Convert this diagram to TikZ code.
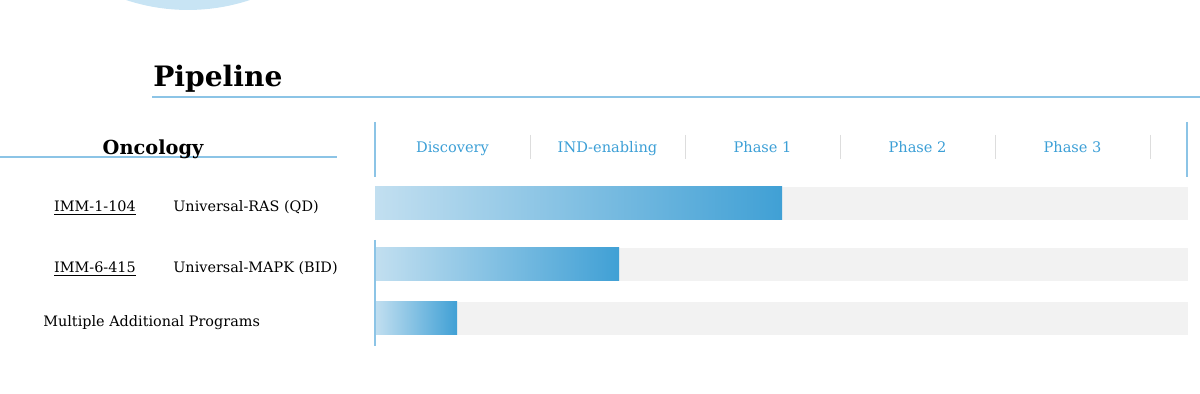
\documentclass[tikz,border=0pt]{standalone}
\usepackage{fontspec}
\setmainfont{DejaVu Serif}
\usetikzlibrary{calc}
\definecolor{pipeblue}{HTML}{3C9FD6}
\definecolor{ruleblue}{HTML}{8CC4E6}
\definecolor{barlight}{HTML}{C2DFF0}
\definecolor{bardark}{HTML}{40A0D5}
\definecolor{bargray}{HTML}{F2F2F2}
\definecolor{sepgray}{HTML}{DDDDDD}
\definecolor{blob}{HTML}{C8E4F4}
\tikzset{
  phase/.style={text=pipeblue, font=\fontsize{8.3}{10}\selectfont, anchor=base, inner sep=0pt},
  prog/.style={font=\fontsize{8.2}{10}\selectfont, anchor=base west, inner sep=0pt},
  code/.style={font=\fontsize{8.2}{10}\selectfont, anchor=base, inner sep=0pt},
  progbar/.style={left color=barlight, right color=bardark, draw=none},
  rule/.style={ruleblue, line width=0.6pt},
}

\begin{document}
\begin{tikzpicture}[x=0.02cm,y=-0.02cm]
	\useasboundingbox (0,0) rectangle (1200,394);
	% circle at the top
	\begin{scope}
		\clip (0,0) rectangle (1200,394);
		\fill[blob] (188,-187) circle[radius=3.94cm];
	\end{scope}
	% title
	\node[anchor=base west, inner sep=0pt, font=\bfseries\fontsize{16}{19}\selectfont] (title) at (153,87) {Pipeline};
	\draw[rule] (152,97) -- (1200,97);
	\draw[rule] (0,157) -- (337,157);
	\node[anchor=base, inner sep=0pt, font=\bfseries\fontsize{11}{13}\selectfont] (onc) at (153,155) {Oncology};
	% phases
	\draw[rule] (375,122) -- (375,177);
	\draw[rule] (1187,122) -- (1187,177);
	\foreach \name [count=\i] in {Discovery, IND-enabling, Phase 1, Phase 2, Phase 3} {
		\node[phase] (ph\i) at ({375+155*(\i-0.5)},153) {\name};
		\draw[sepgray] ({375+155*\i},135) -- ++(0,24);
	}
	% bars
	\foreach \y/\e in {187/782, 248/619, 302/457} {
		\fill[bargray] (375,\y) rectangle (1188,\y+33);
		\shade[progbar] (375,\y) rectangle (\e,\y+33);
	}
	\draw[rule] (375,240) -- (375,346);
	% programs
	\node[code] (p1) at (95,212) {\underline{IMM-1-104}};
	\node[prog] (t1) at (173,212) {Universal-RAS (QD)};
	\node[code] (p2) at (95,273) {\underline{IMM-6-415}};
	\node[prog] (t2) at (173,273) {Universal-MAPK (BID)};
	\node[prog] (t3) at (43,327) {Multiple Additional Programs};
\end{tikzpicture}
\end{document}
